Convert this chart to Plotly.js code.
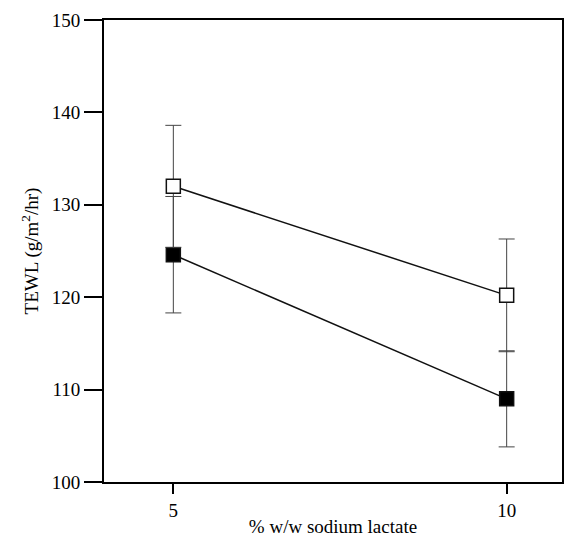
<!DOCTYPE html>
<html>
<head>
<meta charset="utf-8">
<script src="https://cdn.plot.ly/plotly-3.0.1.min.js"></script>
<style>
  html, body { margin: 0; padding: 0; background: #fff; }
  #chart { width: 569px; height: 538px; }
</style>
</head>
<body>
<div id="chart"></div>
<script>
// Sodium lactate concentration (% w/w)
const concentration = [5, 10];

// TEWL, open-square series, with its error half-widths
const openValues = [132.0, 120.2];
const openErrors = [6.6, 6.1];

// TEWL, filled-square series, with its error half-widths
const filledValues = [124.6, 109.0];
const filledErrors = [6.3, 5.2];

const yTicks = [100, 110, 120, 130, 140, 150];
const xTicks = [5, 10];

const serif = 'Liberation Serif, Times New Roman, serif';

function series(values, errors, fill) {
  return {
    x: concentration,
    y: values,
    type: 'scatter',
    mode: 'lines+markers',
    line: { color: '#111', width: 1.5 },
    marker: {
      symbol: 'square',
      size: 14,
      color: fill,
      line: { color: '#111', width: 1.5 }
    },
    error_y: {
      type: 'data',
      array: errors,
      visible: true,
      color: '#444',
      thickness: 1,
      width: 8
    },
    showlegend: false,
    hoverinfo: 'x+y'
  };
}

const data = [
  series(filledValues, filledErrors, '#000'),
  series(openValues, openErrors, '#fff')
];

const layout = {
  width: 569,
  height: 538,
  margin: { l: 104, r: 7, t: 20, b: 56 },
  paper_bgcolor: '#fff',
  plot_bgcolor: '#fff',
  font: { family: serif, color: '#000', size: 19 },
  xaxis: {
    range: [3.96, 10.83],
    tickvals: xTicks,
    ticktext: xTicks.map(String),
    ticks: 'outside',
    ticklen: 10,
    tickwidth: 2,
    tickcolor: '#000',
    showgrid: false,
    zeroline: false,
    showline: true,
    linecolor: '#000',
    linewidth: 2,
    mirror: true,
    tickfont: { family: serif, size: 19 },
    title: { text: '% w/w sodium lactate', font: { family: serif, size: 19 }, standoff: 0 }
  },
  yaxis: {
    range: [100, 150],
    tickvals: yTicks,
    ticktext: yTicks.map(String),
    ticks: 'outside',
    ticklen: 18,
    tickwidth: 2,
    tickcolor: '#000',
    showgrid: false,
    zeroline: false,
    showline: true,
    linecolor: '#000',
    linewidth: 2,
    mirror: true,
    tickfont: { family: serif, size: 19 },
    title: { text: 'TEWL (g/m<sup>2</sup>/hr)', font: { family: serif, size: 19 }, standoff: 8 }
  }
};

Plotly.newPlot('chart', data, layout, { displayModeBar: false, staticPlot: true });
</script>
</body>
</html>
